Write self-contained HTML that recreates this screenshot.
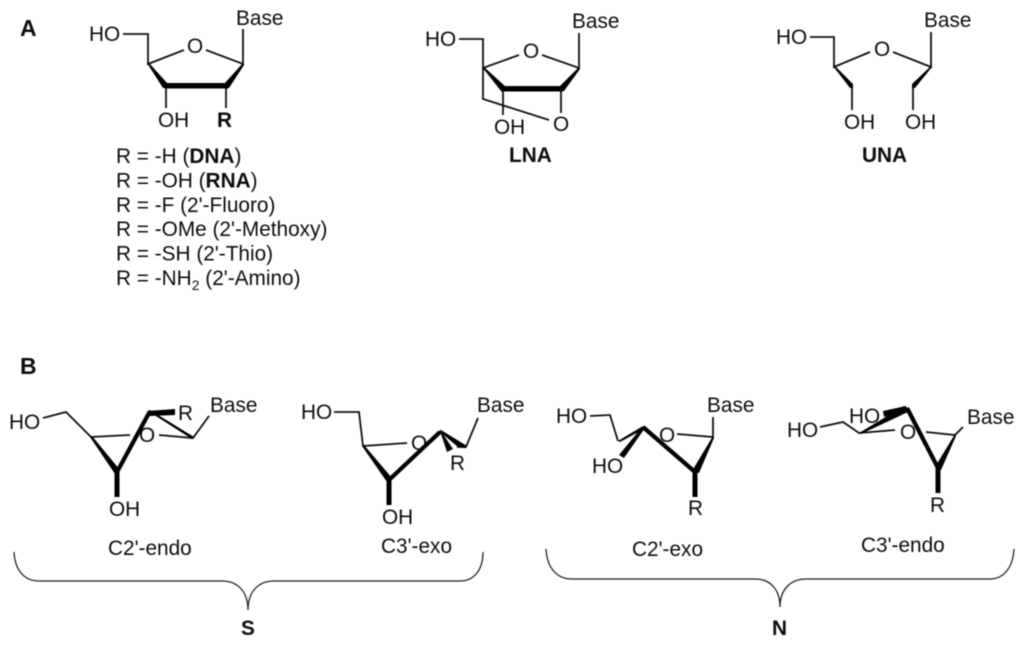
<!DOCTYPE html>
<html><head><meta charset="utf-8"><style>
html,body{margin:0;padding:0;background:#fff;width:1024px;height:646px;overflow:hidden}
svg{display:block;filter:blur(.45px)}
text{font-family:"Liberation Sans",sans-serif;font-size:20.8px;fill:#0d0d0d}
.b{font-weight:bold}
.l{fill:none;stroke:#111;stroke-width:1.8;stroke-linejoin:miter}
.t{fill:none;stroke:#000;stroke-width:4.2;stroke-linecap:butt;stroke-linejoin:miter}
.k{fill:none;stroke:#000;stroke-width:5;stroke-linecap:butt}
.w{fill:#000;stroke:none}
.br{fill:none;stroke:#222;stroke-width:1.3}
</style></head><body>
<svg width="1024" height="646" viewBox="0 0 1024 646" xmlns="http://www.w3.org/2000/svg">
<rect width="1024" height="646" fill="#fff"/>
<text x="20" y="36" class="b" style="font-size:23px">A</text>
<text x="20" y="374" class="b" style="font-size:23px">B</text>

<!-- Structure 1 -->
<text x="89" y="41">HO</text>
<text x="236" y="25">Base</text>
<text x="187" y="53">O</text>
<text x="158" y="127">OH</text>
<text x="217" y="127" class="b">R</text>
<path class="l" d="M123 34H148V64L184 50M206 50L243 64V29M166 86V108M226 86V108"/>
<polygon class="w" points="147,63 149,63 168,84 168,88 163,88"/>
<polygon class="w" points="243,63 244,65 229,88 224,88 224,84"/>
<rect class="w" x="165" y="83" width="63" height="5.500"/>

<!-- LNA -->
<text x="425" y="46">HO</text>
<text x="572" y="28">Base</text>
<text x="523" y="58">O</text>
<text x="553" y="131">O</text>
<text x="494" y="134">OH</text>
<text x="509" y="162" class="b">LNA</text>
<path class="l" d="M459 39H483V68L519 55M542 55L579 68V33M561 89V113M483 68V99L549 120M503 89V115"/>
<polygon class="w" points="482,67 484,67 506,87 506,91 501,91"/>
<polygon class="w" points="579,67 580,69 564,91 559,91 559,87"/>
<rect class="w" x="501" y="86" width="62" height="5.500"/>

<!-- UNA -->
<text x="776" y="44">HO</text>
<text x="924" y="27">Base</text>
<text x="874" y="56">O</text>
<text x="844" y="129">OH</text>
<text x="905" y="129">OH</text>
<text x="862" y="162" class="b">UNA</text>
<path class="l" d="M810 37H834V67L870 52M893 52L931 67V32M852 85V110M913 85V110"/>
<polygon class="w" points="833,66 835,66 853,84 853,88 850,88"/>
<polygon class="w" points="931,66 932,67 915,88 912,88 912,84"/>

<!-- list -->
<text x="116" y="163">R = -H (<tspan class="b">DNA</tspan>)</text>
<text x="116" y="187.500">R = -OH (<tspan class="b">RNA</tspan>)</text>
<text x="116" y="212">R = -F (2'-Fluoro)</text>
<text x="116" y="236">R = -OMe (2'-Methoxy)</text>
<text x="116" y="260.500">R = -SH (2'-Thio)</text>
<text x="116" y="285">R = -NH<tspan dy="5" style="font-size:14px">2</tspan><tspan dy="-5"> (2'-Amino)</tspan></text>

<!-- C2'-endo -->
<text x="9" y="429">HO</text>
<text x="210" y="412">Base</text>
<text x="178" y="420">R</text>
<text x="139" y="442">O</text>
<text x="109" y="516">OH</text>
<text x="108" y="555">C2'-endo</text>
<path class="l" d="M43 418L66 412L91 437L130 435M159 435L193 438L209 416"/>
<polygon class="w" points="90,437 92,436 120,470 115,474"/>
<path class="t" d="M117 472L149 413"/>
<path class="k" d="M117 472V497"/>
<polygon class="w" points="147,411 175,409 175,415 150,416"/>
<polygon class="w" points="148,411 150,410 194,437 192,439"/>

<!-- C3'-exo -->
<text x="301" y="419">HO</text>
<text x="477" y="412">Base</text>
<text x="450" y="470">R</text>
<text x="411" y="450">O</text>
<text x="382" y="524">OH</text>
<text x="381" y="553">C3'-exo</text>
<path class="l" d="M334 412H359L363 446L407 443M457 447H466L478 418"/>
<polygon class="w" points="362,446 364,445 392,478 387,482"/>
<path class="t" d="M389 480L440 432"/>
<path class="k" d="M389 480V505"/>
<polygon class="w" points="439,431 441,430 467,446 465,448 458,447"/>
<polygon class="w" points="440,431 441,431 453,449 447,452"/>

<!-- C2'-exo -->
<text x="556" y="423">HO</text>
<text x="707" y="412">Base</text>
<text x="592" y="473">HO</text>
<text x="659" y="442">O</text>
<text x="688" y="515">R</text>
<text x="632" y="556">C2'-exo</text>
<path class="l" d="M590 416L610 415L618 441M677 434L713 437V417"/>
<polygon class="w" points="618,441 643,426 644,429 620,442"/>
<polygon class="w" points="642,427 645,428 624,458 619,455"/>
<path class="t" d="M643 427L695 472"/>
<path class="k" d="M695 472V497"/>
<polygon class="w" points="713,436 714,438 699,473 692,471"/>

<!-- C3'-endo -->
<text x="787" y="437">HO</text>
<text x="849" y="423">HO</text>
<text x="967" y="424">Base</text>
<text x="900" y="439">O</text>
<text x="930" y="512">R</text>
<text x="861" y="552">C3'-endo</text>
<path class="l" d="M820 427L843 422L859 433L895 430M926 432L955 435L963 427"/>
<polygon class="w" points="859,433 904,406 908,412 861,434"/>
<polygon class="w" points="883,411 906,406 908,411 884,417"/>
<path class="t" d="M907 408L938 468"/>
<path class="k" d="M938 468V493"/>
<polygon class="w" points="955,434 956,436 941,470 935,467"/>

<!-- Braces -->
<path class="br" d="M14 552C15 570 24 581 39 581H222C238 581 248 592 248 610C248 592 258 581 274 581H460C474 581 483 570 483 552"/>
<path class="br" d="M546 549C547 567 556 579 572 579H755C771 579 780 590 780 607C780 590 790 579 806 579H990C1004 579 1013 567 1014 549"/>
<text x="241" y="635" class="b">S</text>
<text x="772" y="635" class="b">N</text>
</svg>
</body></html>
